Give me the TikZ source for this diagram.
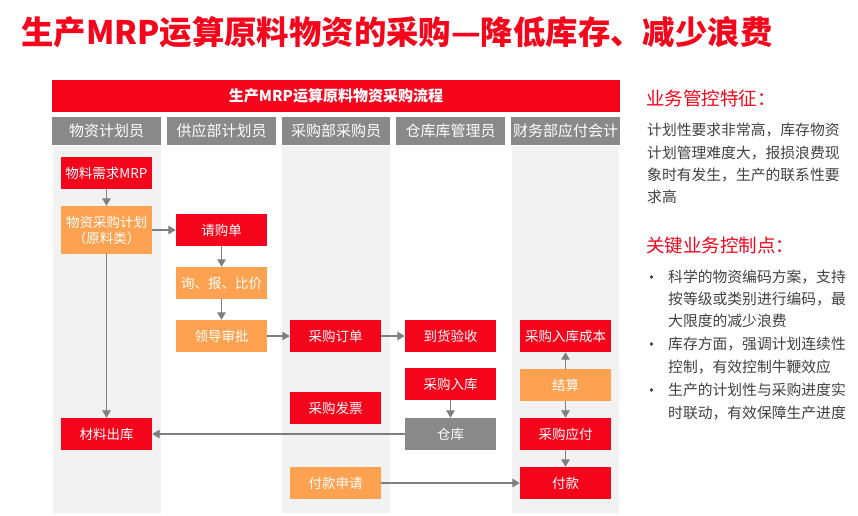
\documentclass[tikz,border=0pt]{standalone}
\usepackage{fontspec}
\setmainfont{Noto Sans CJK SC}
\usetikzlibrary{arrows.meta}
\definecolor{cred}{RGB}{245,5,28}
\definecolor{corange}{RGB}{253,162,80}
\definecolor{cgray}{RGB}{137,137,137}
\definecolor{clane}{RGB}{242,242,242}
\definecolor{carrow}{RGB}{127,127,127}
\definecolor{ctext}{RGB}{64,64,64}
\begin{document}
\begin{tikzpicture}[x=1pt,y=-1pt,
  box/.style={minimum width=91pt, minimum height=32pt, inner sep=0pt, text=white, font=\fontsize{13.5}{16}\selectfont, align=center},
  rbox/.style={box, fill=cred},
  obox/.style={box, fill=corange},
  gbox/.style={box, fill=cgray},
  hdr/.style={fill=cgray, minimum width=109pt, minimum height=28pt, inner sep=0pt, text=white, font=\fontsize{15}{17}\selectfont},
  arr/.style={draw=carrow, line width=1.3pt, -{Triangle[length=7.5pt,width=8.5pt]}},
  txt/.style={anchor=west, inner sep=0pt, text=ctext, font=\fontsize{14.8}{17}\selectfont},
  head/.style={anchor=west, inner sep=0pt, text=cred, font=\fontsize{18.5}{21}\selectfont},
  bul/.style={circle, fill=ctext, inner sep=0pt, minimum size=3.6pt}]
\useasboundingbox (0,0) rectangle (858,515);
% title
\node[anchor=west, inner sep=0pt, text=cred, font=\bfseries\fontsize{32.4}{36}\selectfont] (title) at (21,32) {生产MRP运算原料物资的采购—降低库存、减少浪费};
% lanes
\fill[clane] (53,146) rectangle (161,513);
\fill[clane] (282,146) rectangle (390,513);
\fill[clane] (512,146) rectangle (619,513);
% banner
\node[fill=cred, minimum width=568pt, minimum height=32pt, inner sep=0pt, text=white, font=\bfseries\fontsize{15}{17}\selectfont] (banner) at (336,96) {生产MRP运算原料物资采购流程};
% headers
\node[hdr] (h1) at (106.5,131) {物资计划员};
\node[hdr] (h2) at (221.5,131) {供应部计划员};
\node[hdr, minimum width=108pt] (h3) at (336,131) {采购部采购员};
\node[hdr] (h4) at (450.5,131) {仓库库管理员};
\node[hdr] (h5) at (565.5,131) {财务部应付会计};
% boxes
\node[rbox] (mrp) at (106.5,173) {物料需求MRP};
\node[obox, minimum height=48pt] (plan) at (106.5,230) {物资采购计划\\（原料类）};
\node[rbox] (qgd) at (221.5,230) {请购单};
\node[obox] (xbj) at (221.5,283) {询、报、比价};
\node[obox] (ldsp) at (221.5,336) {领导审批};
\node[rbox] (cgdd) at (335.5,336) {采购订单};
\node[rbox] (dhys) at (450.5,336) {到货验收};
\node[rbox] (cgrkcb) at (565.5,336) {采购入库成本};
\node[rbox] (cgrk) at (450.5,384) {采购入库};
\node[obox] (js) at (565.5,385) {结算};
\node[rbox] (cgfp) at (335.5,408) {采购发票};
\node[gbox] (ck) at (450.5,434) {仓库};
\node[rbox] (cgyf) at (565.5,434) {采购应付};
\node[rbox] (clck) at (106.5,434) {材料出库};
\node[obox] (fksq) at (335.5,483) {付款申请};
\node[rbox] (fk) at (565.5,483) {付款};
% arrows
\draw[arr] (mrp) -- (plan);
\draw[arr] (plan) -- (qgd);
\draw[arr] (qgd) -- (xbj);
\draw[arr] (xbj) -- (ldsp);
\draw[arr] (ldsp) -- (cgdd);
\draw[arr] (cgdd) -- (dhys);
\draw[arr] (cgrk) -- (ck);
\draw[arr] (ck) -- (clck);
\draw[arr] (plan) -- (clck);
\draw[arr] (js) -- (cgrkcb);
\draw[arr] (js) -- (cgyf);
\draw[arr] (cgyf) -- (fk);
\draw[arr] (fksq) -- (fk);
% right panel
\node[head] (hd1) at (646,98) {业务管控特征：};
\node[txt] (f1) at (647,130) {计划性要求非常高，库存物资};
\node[txt] (f2) at (647,153) {计划管理难度大，报损浪费现};
\node[txt] (f3) at (647,175) {象时有发生，生产的联系性要};
\node[txt] (f4) at (647,197) {求高};
\node[head] (hd2) at (646,245) {关键业务控制点：};
\node[bul] (b1) at (651.5,277) {};
\node[txt] (k1) at (668,277) {科学的物资编码方案，支持};
\node[txt] (k2) at (668,299) {按等级或类别进行编码，最};
\node[txt] (k3) at (668,321) {大限度的减少浪费};
\node[bul] (b2) at (651.5,344) {};
\node[txt] (k4) at (668,344) {库存方面，强调计划连续性};
\node[txt] (k5) at (668,367) {控制，有效控制牛鞭效应};
\node[bul] (b3) at (651.5,390) {};
\node[txt] (k6) at (668,390) {生产的计划性与采购进度实};
\node[txt] (k7) at (668,413) {时联动，有效保障生产进度};
\end{tikzpicture}
\end{document}
